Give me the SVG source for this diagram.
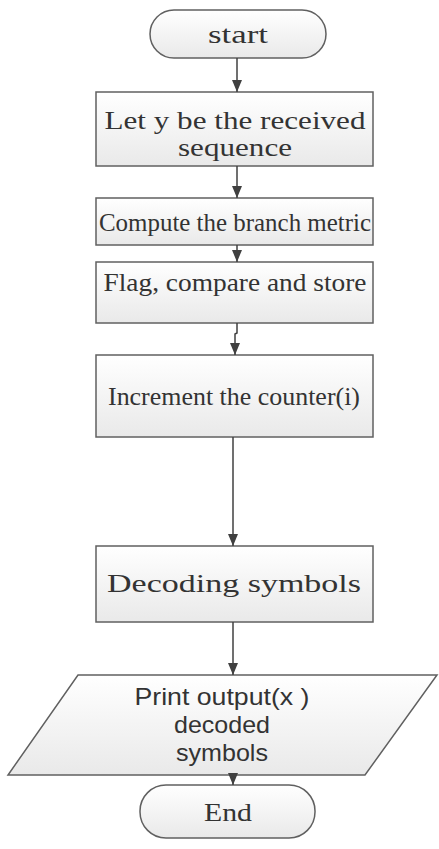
<svg xmlns="http://www.w3.org/2000/svg" width="439" height="849" viewBox="0 0 439 849">
<defs>
<linearGradient id="g" x1="0" y1="0" x2="0" y2="1">
<stop offset="0" stop-color="#ffffff"/>
<stop offset="1" stop-color="#e9e9e9"/>
</linearGradient>
<marker id="ah" viewBox="0 0 12 10" refX="12" refY="5" markerWidth="12" markerHeight="10" markerUnits="userSpaceOnUse" orient="auto">
<path d="M0,0 L12,5 L0,10 z" fill="#404040"/>
</marker>
<style>
.shape{fill:url(#g);stroke:#606060;stroke-width:1.5}
.t{font-family:"Liberation Serif","Times New Roman",serif;font-size:26px;fill:#333;text-anchor:middle}
.s{font-family:"Liberation Sans",Arial,sans-serif;font-size:24px;fill:#333;text-anchor:middle}
.c{fill:none;stroke:#404040;stroke-width:1.5;marker-end:url(#ah)}
</style>
</defs>
<rect width="439" height="849" fill="#fff"/>
<g id="start"><rect class="shape" x="150" y="10" width="176" height="48" rx="24"/><text class="t" x="238" y="43" textLength="60" lengthAdjust="spacingAndGlyphs">start</text></g>
<g id="n1"><rect class="shape" x="96" y="92" width="277" height="74"/><text class="t" x="235" y="129" textLength="261" lengthAdjust="spacingAndGlyphs">Let y be the received</text><text class="t" x="235" y="156" textLength="114" lengthAdjust="spacingAndGlyphs">sequence</text></g>
<g id="n2"><rect class="shape" x="96" y="198" width="277" height="47"/><text class="t" x="235" y="231" textLength="272" lengthAdjust="spacingAndGlyphs">Compute the branch metric</text></g>
<g id="n3"><rect class="shape" x="96" y="262" width="277" height="61"/><text class="t" x="235" y="291" textLength="263" lengthAdjust="spacingAndGlyphs">Flag, compare and store</text></g>
<g id="n4"><rect class="shape" x="96" y="355" width="277" height="82"/><text class="t" x="234" y="405" textLength="252" lengthAdjust="spacingAndGlyphs">Increment the counter(i)</text></g>
<g id="n5"><rect class="shape" x="96" y="546" width="277" height="76"/><text class="t" x="234" y="592" textLength="254" lengthAdjust="spacingAndGlyphs">Decoding symbols</text></g>
<g id="out"><polygon class="shape" points="78,675 437,675 365,775 8,775"/><text class="s" x="222" y="705" textLength="175" lengthAdjust="spacingAndGlyphs">Print output(x )</text><text class="s" x="222" y="733" textLength="96" lengthAdjust="spacingAndGlyphs">decoded</text><text class="s" x="222" y="761" textLength="92" lengthAdjust="spacingAndGlyphs">symbols</text></g>
<g id="end"><rect class="shape" x="140" y="785" width="175" height="53" rx="26"/><text class="t" x="228" y="821" textLength="48" lengthAdjust="spacingAndGlyphs">End</text></g>
<g id="connectors">
<line class="c" x1="237" y1="58" x2="237" y2="92"/>
<line class="c" x1="237" y1="166" x2="237" y2="198"/>
<line class="c" x1="237" y1="245" x2="237" y2="262"/>
<path class="c" d="M237,323 L237,333 L235,334 L235,355"/>
<line class="c" x1="233" y1="437" x2="233" y2="546"/>
<line class="c" x1="233" y1="622" x2="233" y2="675"/>
<line class="c" x1="233" y1="775" x2="233" y2="785"/>
</g>
</svg>
